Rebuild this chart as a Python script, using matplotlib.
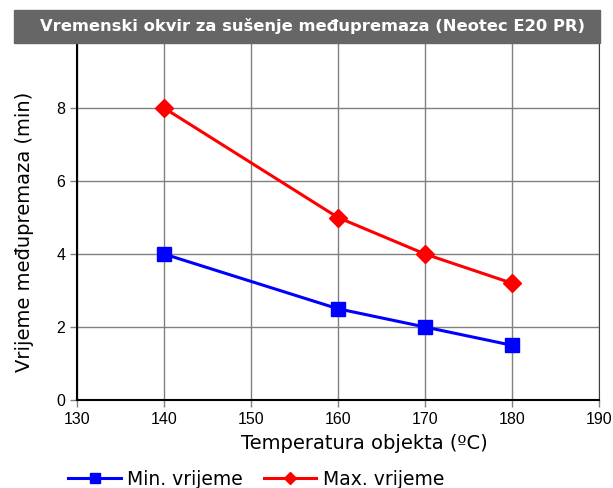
import matplotlib.pyplot as plt
from matplotlib.patches import Rectangle

# podaci
temperature = [140, 160, 170, 180]
min_vrijeme = [4, 2.5, 2, 1.5]
max_vrijeme = [8, 5, 4, 3.2]

fig = plt.figure(figsize=(6.13, 4.88), dpi=100)
ax = fig.add_axes([0.1256, 0.1803, 0.8515, 0.748])

ax.plot(temperature, min_vrijeme, color='#0000ff', lw=2.2, marker='s', ms=10,
        label='Min. vrijeme', zorder=3)
ax.plot(temperature, max_vrijeme, color='#ff0000', lw=2.2, marker='D', ms=9,
        label='Max. vrijeme', zorder=3)

ax.set_xlim(130, 190)
ax.set_ylim(0, 10)
ax.set_xticks(range(130, 191, 10))
ax.set_yticks(range(0, 9, 2))
ax.grid(True, color='#808080', lw=1)
ax.set_axisbelow(True)
for lab in ax.get_xticklabels() + ax.get_yticklabels():
    lab.set_fontfamily('Liberation Sans')
    lab.set_fontsize(11.5)
ax.tick_params(length=5, width=1, color='#808080')
ax.spines['left'].set_linewidth(1.5)
ax.spines['bottom'].set_linewidth(1.5)
ax.spines['top'].set_visible(False)
ax.spines['right'].set_color('#404040')

ax.set_xlabel('Temperatura objekta (ºC)', fontsize=14)
ax.xaxis.set_label_coords(0.55, -0.093)
ax.set_ylabel('Vrijeme međupremaza (min)', fontsize=14)
ax.yaxis.set_label_coords(-0.083, 0.46)

fig.legend(loc='lower center', bbox_to_anchor=(0.418, -0.036), ncol=2,
           frameon=False, fontsize=13.5, handlelength=2.8, columnspacing=1.1,
           handletextpad=0.35, markerscale=0.7)

# traka s naslovom
fig.patches.append(Rectangle((0.0228, 0.9119), 0.956, 0.0676,
                             transform=fig.transFigure, color='#666666',
                             zorder=10))
fig.text(0.51, 0.9457, 'Vremenski okvir za sušenje međupremaza (Neotec E20 PR)',
         ha='center', va='center', color='white', fontsize=11.8,
         fontweight='bold', zorder=11)

fig.savefig('out.png', dpi=100)
